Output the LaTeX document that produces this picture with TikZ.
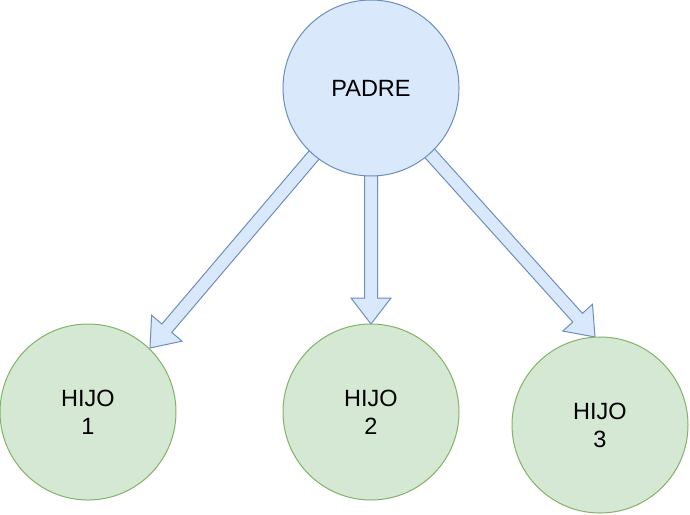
\documentclass[tikz,border=0pt]{standalone}
\usepackage{fontspec}
\setmainfont{Liberation Sans}
\usetikzlibrary{calc,backgrounds}
\definecolor{bfill}{HTML}{DAE8FC}
\definecolor{bline}{HTML}{6C8EBF}
\definecolor{gfill}{HTML}{D5E8D4}
\definecolor{gline}{HTML}{82B366}
\tikzset{
  bluecirc/.style={circle, draw=bline, fill=bfill, line width=1pt, minimum size=176pt, inner sep=0pt, align=center, font=\fontsize{23.5}{28}\selectfont},
  greencirc/.style={circle, draw=gline, fill=gfill, line width=1pt, minimum size=176pt, inner sep=0pt, align=center, font=\fontsize{23.5}{28}\selectfont},
  flexstyle/.style={draw=bline, fill=bfill, line width=1pt, line join=miter}
}
\newcommand\flexarr[2]{%
  \coordinate (hb) at ($(#2)!26pt!(#1)$);
  \draw[flexstyle] ($(#1)!6.5pt!90:(#2)$) -- ($(hb)!6.5pt!-90:(#1)$) -- ($(hb)!20pt!-90:(#1)$) -- (#2)
    -- ($(hb)!20pt!90:(#1)$) -- ($(hb)!6.5pt!90:(#1)$) -- ($(#1)!6.5pt!-90:(#2)$) -- cycle;
}
\begin{document}
\begin{tikzpicture}[x=1pt,y=-1pt]
\useasboundingbox (0,0) rectangle (690,514);
\node[bluecirc] (padre) at (371,88) {PADRE};
\node[greencirc] (h1) at (88,412) {HIJO\\1};
\node[greencirc] (h2) at (371,412) {HIJO\\2};
\node[greencirc] (h3) at (600,425) {HIJO\\3};
\coordinate (t1) at (150,348);
\coordinate (t2) at (371,324);
\coordinate (t3) at (595,337);
\begin{pgfonlayer}{background}
\flexarr{padre.center}{t1}
\flexarr{padre.center}{t2}
\flexarr{padre.center}{t3}
\end{pgfonlayer}
\end{tikzpicture}
\end{document}
